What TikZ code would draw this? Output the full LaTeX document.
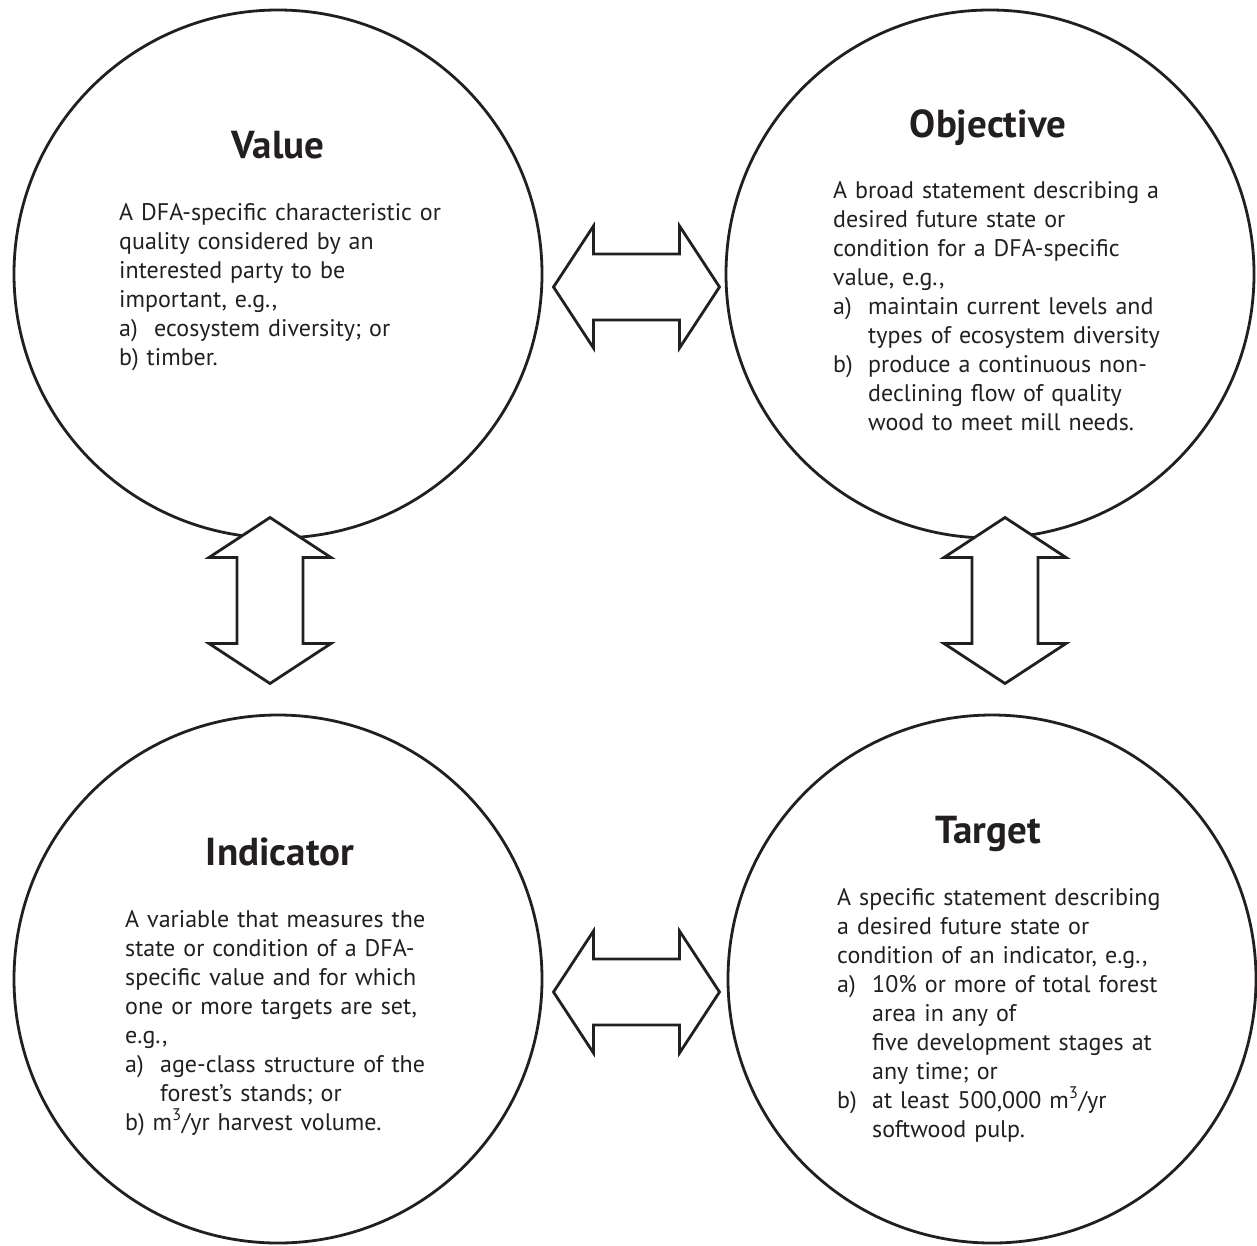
\documentclass[tikz,border=0pt]{standalone}
\usepackage{fontspec}
\setmainfont{PT Sans}
\definecolor{ink}{RGB}{35,31,32}
\newcommand{\lbl}[1]{\makebox[35pt][l]{#1}}
\newcommand{\cont}{\hspace*{35pt}}

\begin{document}
\begin{tikzpicture}
    [
        x=1pt, y=-1pt,
        bubble/.style={
                circle,
                draw=ink,
                line width=2.8pt,
                minimum size=528pt,
                inner sep=0pt,
            },
        heading/.style={
                font=\fontsize{39}{44}\selectfont\bfseries,
                text=ink,
                anchor=base,
                inner sep=0pt,
            },
        blurb/.style={
                font=\fontsize{24}{29}\selectfont,
                text=ink,
                align=left,
                text width=380pt,
                anchor=base west,
                inner sep=0pt,
            },
        twoway/.pic={
                \draw [draw=ink, fill=white, line width=2.8pt, line join=miter]
                    (-83,0) -- (-43,-61) -- (-43,-33) -- (43,-33) -- (43,-61)
                    -- (83,0) -- (43,61) -- (43,33) -- (-43,33) -- (-43,61) -- cycle;
            },
    ]
    \useasboundingbox (0,0) rectangle (1257,1245);

    % the four circles
    \node [bubble] (value) at (278,274) {};
    \node [bubble] (objective) at (990,274) {};
    \node [bubble] (indicator) at (278,979) {};
    \node [bubble] (target) at (992,979) {};

    % double arrows between them
    \pic at (636.5,287) {twoway};
    \pic at (636.5,992) {twoway};
    \pic [rotate=90] at (270,600.5) {twoway};
    \pic [rotate=90] at (1005,600.5) {twoway};

    % value
    \node [heading] (valuetitle) at (278,158) {Value};
    \node [blurb] (valuetext) at (119,220)
        {A DFA-specific characteristic or\\
         quality considered by an\\
         interested party to be\\
         important, e.g.,\\
         \lbl{a)}ecosystem diversity; or\\
         b) timber.};

    % objective
    \node [heading] (objectivetitle) at (988,137) {Objective};
    \node [blurb] (objectivetext) at (833,198)
        {A broad statement describing a\\
         desired future state or\\
         condition for a DFA-specific\\
         value, e.g.,\\
         \lbl{a)}maintain current levels and\\
         \cont types of ecosystem diversity\\
         \lbl{b)}produce a continuous non-\\
         \cont declining flow of quality\\
         \cont wood to meet mill needs.};

    % indicator
    \node [heading] (indicatortitle) at (280,865) {Indicator};
    \node [blurb] (indicatortext) at (125,927)
        {A variable that measures the\\
         state or condition of a DFA-\\
         specific value and for which\\
         one or more targets are set,\\
         e.g.,\\
         \lbl{a)}age-class structure of the\\
         \cont forest’s stands; or\\
         b) m\textsuperscript{3}/yr harvest volume.};

    % target
    \node [heading] (targettitle) at (988,843) {Target};
    \node [blurb] (targettext) at (837,905)
        {A specific statement describing\\
         a desired future state or\\
         condition of an indicator, e.g.,\\
         \lbl{a)}10\% or more of total forest\\
         \cont area in any of\\
         \cont five development stages at\\
         \cont any time; or\\
         \lbl{b)}at least 500,000 m\textsuperscript{3}/yr\\
         \cont softwood pulp.};
\end{tikzpicture}
\end{document}
